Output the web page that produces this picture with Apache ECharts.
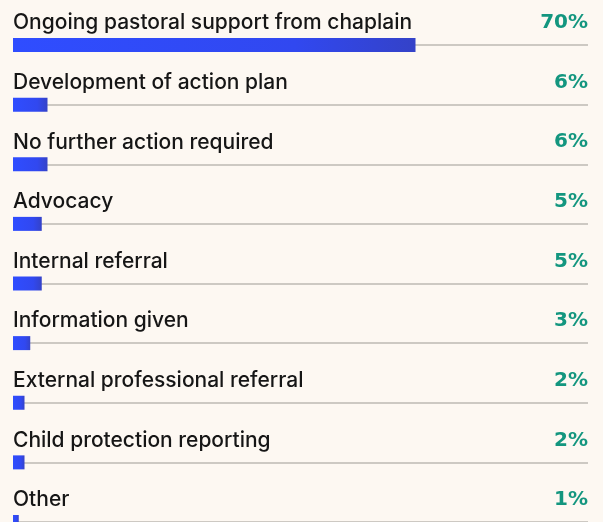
<!DOCTYPE html>
<html>
<head>
<meta charset="utf-8">
<script src="https://cdn.jsdelivr.net/npm/echarts@6/dist/echarts.min.js"></script>
<style>
  html, body { margin: 0; padding: 0; background: #fdf8f2; }
  #chart { width: 603px; height: 522px; }
</style>
</head>
<body>
<div id="chart"></div>
<script>
// 数据
var categories = [
  'Ongoing pastoral support from chaplain',
  'Development of action plan',
  'No further action required',
  'Advocacy',
  'Internal referral',
  'Information given',
  'External professional referral',
  'Child protection reporting',
  'Other'
];
var percents = [70, 6, 6, 5, 5, 3, 2, 2, 1];
var fullTrack = categories.map(function () { return 100; });

var chart = echarts.init(document.getElementById('chart'));

var option = {
  backgroundColor: '#fdf8f2',
  animation: false,
  grid: { left: 13, right: 15, top: 45, height: 480, containLabel: false },
  xAxis: { type: 'value', min: 0, max: 100, show: false },
  yAxis: {
    type: 'category',
    data: categories,
    inverse: true,
    boundaryGap: false,
    axisLine: { show: false },
    axisTick: { show: false },
    axisLabel: { show: false },
    splitLine: { show: true, lineStyle: { color: '#cdc9c3', width: 2 } }
  },
  series: [
    {
      // 右侧百分比
      type: 'bar',
      data: fullTrack,
      barWidth: 14,
      itemStyle: { color: 'rgba(0,0,0,0)' },
      silent: true,
      label: {
        show: true,
        position: 'insideRight',
        distance: 0,
        offset: [0, -22],
        padding: 0,
        formatter: function (p) { return percents[p.dataIndex] + '%'; },
        fontFamily: 'DejaVu Sans',
        fontWeight: 'bold',
        fontSize: 20,
        color: '#13967f'
      }
    },
    {
      type: 'bar',
      data: percents,
      barWidth: 14,
      barGap: '-100%',
      itemStyle: {
        color: new echarts.graphic.LinearGradient(0, 0, 1, 0, [
          { offset: 0, color: '#2f4dff' },
          { offset: 0.7, color: '#3148f0' },
          { offset: 1, color: '#3442c8' }
        ])
      },
      label: {
        show: true,
        position: [0, -15],
        align: 'left',
        verticalAlign: 'middle',
        formatter: '{b}',
        fontFamily: 'Inter',
        fontWeight: 500,
        fontSize: 21,
        color: '#161616'
      }
    }
  ]
};

chart.setOption(option);
</script>
</body>
</html>
